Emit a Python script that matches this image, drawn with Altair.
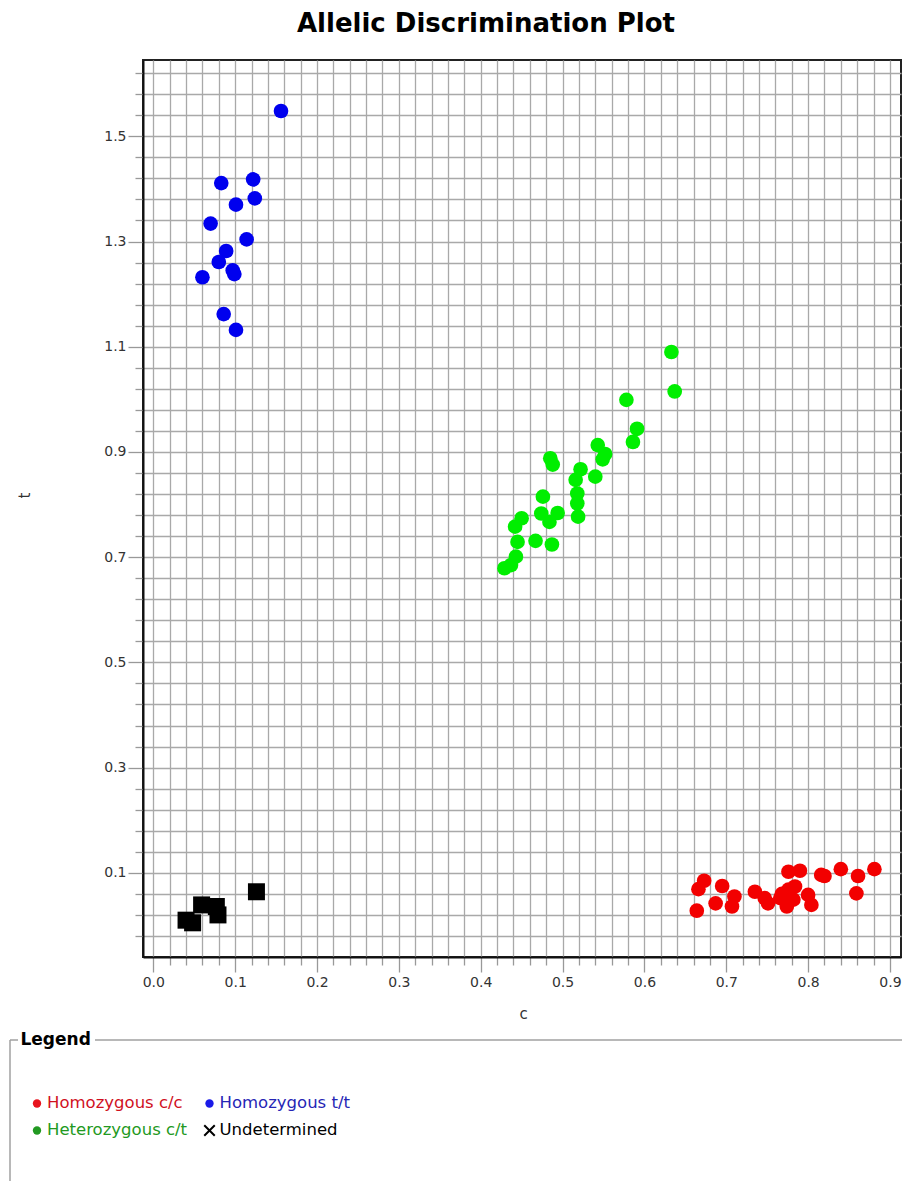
import altair as alt
import pandas as pd

# ---------------- data ----------------
title_text = "Allelic Discrimination Plot"
x_title = "c"
y_title = "t"

groups = ["Homozygous c/c", "Homozygous t/t", "Heterozygous c/t", "Undetermined"]
marker_colors = ["#f20000", "#0000ee", "#00ee00", "#000000"]
legend_text_colors = ["#d0101e", "#2525b5", "#229922", "#000000"]
legend_symbol_colors = ["#e8141e", "#1a1ae8", "#229922", "#000000"]
legend_col = [0, 1, 0, 1]
legend_row = [0, 0, 1, 1]

# Homozygous c/c (red)
cc_c = [0.664, 0.673, 0.666, 0.687, 0.695, 0.710, 0.707, 0.735, 0.747, 0.751, 0.766,
        0.776, 0.790, 0.776, 0.774, 0.782, 0.800, 0.804, 0.816, 0.820, 0.840, 0.861,
        0.859, 0.881, 0.784, 0.768]
cc_t = [0.028, 0.085, 0.069, 0.042, 0.075, 0.055, 0.036, 0.064, 0.052, 0.042, 0.052,
        0.102, 0.104, 0.068, 0.036, 0.049, 0.058, 0.039, 0.096, 0.094, 0.107, 0.094,
        0.061, 0.107, 0.074, 0.060]

# Homozygous t/t (blue)
tt_c = [0.156, 0.083, 0.122, 0.124, 0.101, 0.070, 0.114, 0.089, 0.080, 0.060, 0.097,
        0.099, 0.086, 0.101]
tt_t = [1.548, 1.411, 1.418, 1.382, 1.370, 1.334, 1.304, 1.282, 1.261, 1.232, 1.245,
        1.238, 1.162, 1.132]

# Heterozygous c/t (green)
ct_c = [0.633, 0.637, 0.578, 0.591, 0.586, 0.543, 0.552, 0.549, 0.485, 0.488, 0.522,
        0.540, 0.516, 0.518, 0.476, 0.518, 0.474, 0.494, 0.484, 0.519, 0.450, 0.442,
        0.445, 0.467, 0.487, 0.443, 0.437, 0.429]
ct_t = [1.090, 1.015, 0.999, 0.944, 0.919, 0.913, 0.896, 0.886, 0.888, 0.876, 0.867,
        0.853, 0.847, 0.821, 0.815, 0.802, 0.783, 0.784, 0.767, 0.777, 0.774, 0.758,
        0.729, 0.731, 0.724, 0.701, 0.685, 0.679]

# Undetermined (black squares)
un_c = [0.040, 0.048, 0.059, 0.077, 0.079, 0.126]
un_t = [0.010, 0.005, 0.039, 0.036, 0.020, 0.064]

x_domain = [-0.0126, 0.9135]
y_domain = [-0.06, 1.645]
x_grid = [round(0.02 * i, 2) for i in range(0, 46)]
x_major = [round(0.1 * i, 1) for i in range(0, 10)]
y_grid = [round(0.1 + 0.04 * k, 2) for k in range(-3, 39)]
y_major = [round(0.1 + 0.2 * k, 1) for k in range(0, 8)]

# ---------------- tables ----------------
df = pd.DataFrame({
    "c": cc_c + tt_c + ct_c + un_c,
    "t": cc_t + tt_t + ct_t + un_t,
    "group": [groups[0]] * len(cc_c) + [groups[1]] * len(tt_c)
             + [groups[2]] * len(ct_c) + [groups[3]] * len(un_c),
})
leg_df = pd.DataFrame({
    "label": groups,
    "col": legend_col,
    "row": legend_row,
    "sym_color": legend_symbol_colors,
    "txt_color": legend_text_colors,
})

FONT = "DejaVu Sans"
LABEL_COLOR = "#333333"

x_major_js = "[" + ",".join(str(v) for v in x_major) + "]"
y_major_js = "[" + ",".join(str(v) for v in y_major) + "]"

x_axis = alt.Axis(
    values=x_grid, grid=True, gridColor="#a9a9a9", gridWidth=1.3,
    tickColor="#999999", tickWidth=1.3,
    tickSize={"condition": {"test": f"indexof({x_major_js}, datum.value) >= 0", "value": 15}, "value": 8},
    labelExpr=f"indexof({x_major_js}, datum.value) >= 0 ? format(datum.value, '.1f') : ''",
    labelFont=FONT, labelFontSize=14, labelColor=LABEL_COLOR, labelPadding=3,
    labelOverlap=False, labelFlush=False,
    domainColor="#111111", domainWidth=2,
    title=x_title, titleFont=FONT, titleFontSize=15, titleFontWeight="normal",
    titleColor=LABEL_COLOR, titleX=380, titleY=56, titleAlign="center", titleBaseline="middle",
)
y_axis = alt.Axis(
    values=y_grid, grid=True, gridColor="#a9a9a9", gridWidth=1.3,
    tickColor="#999999", tickWidth=1.3,
    tickSize={"condition": {"test": f"indexof({y_major_js}, datum.value) >= 0", "value": 15}, "value": 8},
    labelExpr=f"indexof({y_major_js}, datum.value) >= 0 ? format(datum.value, '.1f') : ''",
    labelFont=FONT, labelFontSize=14, labelColor=LABEL_COLOR, labelPadding=2,
    labelOverlap=False, labelFlush=False,
    domainColor="#111111", domainWidth=2,
    title=y_title, titleFont=FONT, titleFontSize=15, titleFontWeight="normal",
    titleColor=LABEL_COLOR, titleX=-119, titleY=435, titleAngle=270,
    titleAlign="center", titleBaseline="middle",
)

xs = alt.Scale(domain=x_domain, nice=False, zero=False)
ys = alt.Scale(domain=y_domain, nice=False, zero=False)

# circles and squares in one mark, so they share a single pair of axes
shape_range = ["circle", "circle", "circle", "square"]
size_range = [215, 215, 215, 289]
points = alt.Chart(df).mark_point(filled=True, opacity=1).encode(
    x=alt.X("c:Q", scale=xs, axis=x_axis),
    y=alt.Y("t:Q", scale=ys, axis=y_axis),
    color=alt.Color("group:N", scale=alt.Scale(domain=groups, range=marker_colors), legend=None),
    shape=alt.Shape("group:N", scale=alt.Scale(domain=groups, range=shape_range), legend=None),
    size=alt.Size("group:N", scale=alt.Scale(type="ordinal", domain=groups, range=size_range), legend=None),
)

# ---------------- legend (drawn below the plot) ----------------
lx = alt.X("col:Q", scale=alt.Scale(domain=[0, 1], range=[-106, 66.5]), axis=None)
ly = alt.Y("row:Q", scale=alt.Scale(domain=[0, 1], range=[1043.5, 1070.5]), axis=None)
leg_base = alt.Chart(leg_df).encode(x=lx, y=ly)
leg_dots = leg_base.transform_filter(alt.datum.label != groups[3]).mark_point(
    filled=True, size=70, opacity=1, shape="circle"
).encode(color=alt.Color("sym_color:N", scale=None))
leg_cross = leg_base.transform_filter(alt.datum.label == groups[3]).mark_point(
    filled=False, size=110, opacity=1, shape="M-1,-1L1,1M-1,1L1,-1", strokeWidth=2
).encode(color=alt.Color("sym_color:N", scale=None))
leg_text = leg_base.mark_text(
    align="left", baseline="middle", dx=10, dy=-1, font=FONT, fontSize=16.5
).encode(text="label:N", color=alt.Color("txt_color:N", scale=None))
legend_layer = alt.layer(leg_dots, leg_cross, leg_text)

one = alt.Data(values=[{}])
FRAME = "#a0a0a0"
frame_top_a = alt.Chart(one).mark_rule(color=FRAME, strokeWidth=1.5).encode(
    x=alt.value(-133), x2=alt.value(-125), y=alt.value(980))
frame_top_b = alt.Chart(one).mark_rule(color=FRAME, strokeWidth=1.5).encode(
    x=alt.value(-48), x2=alt.value(770), y=alt.value(980))
frame_left = alt.Chart(one).mark_rule(color=FRAME, strokeWidth=1.5).encode(
    x=alt.value(-133), y=alt.value(980), y2=alt.value(1130))
legend_title = alt.Chart(one).mark_text(
    text="Legend", font=FONT, fontSize=17, fontWeight="bold", align="left",
    baseline="middle", color="#000000"
).encode(x=alt.value(-122.5), y=alt.value(979.5))

chart = alt.layer(
    points,
    frame_top_a, frame_top_b, frame_left, legend_title,
    legend_layer,
).resolve_scale(
    x="independent", y="independent", color="independent"
).properties(
    width=758, height=897,
    title=alt.TitleParams(
        text=title_text, font=FONT, fontSize=26, fontWeight="bold", color="#000000",
        anchor="middle", frame="group", dx=-36, offset=2, baseline="alphabetic",
    ),
    autosize=alt.AutoSizeParams(type="none"),
    padding={"left": 135, "top": 52, "right": 1, "bottom": 224},
).configure_view(stroke="#222222", strokeWidth=2)

chart.save("out.html", embed_options={"renderer": "svg", "actions": False})
